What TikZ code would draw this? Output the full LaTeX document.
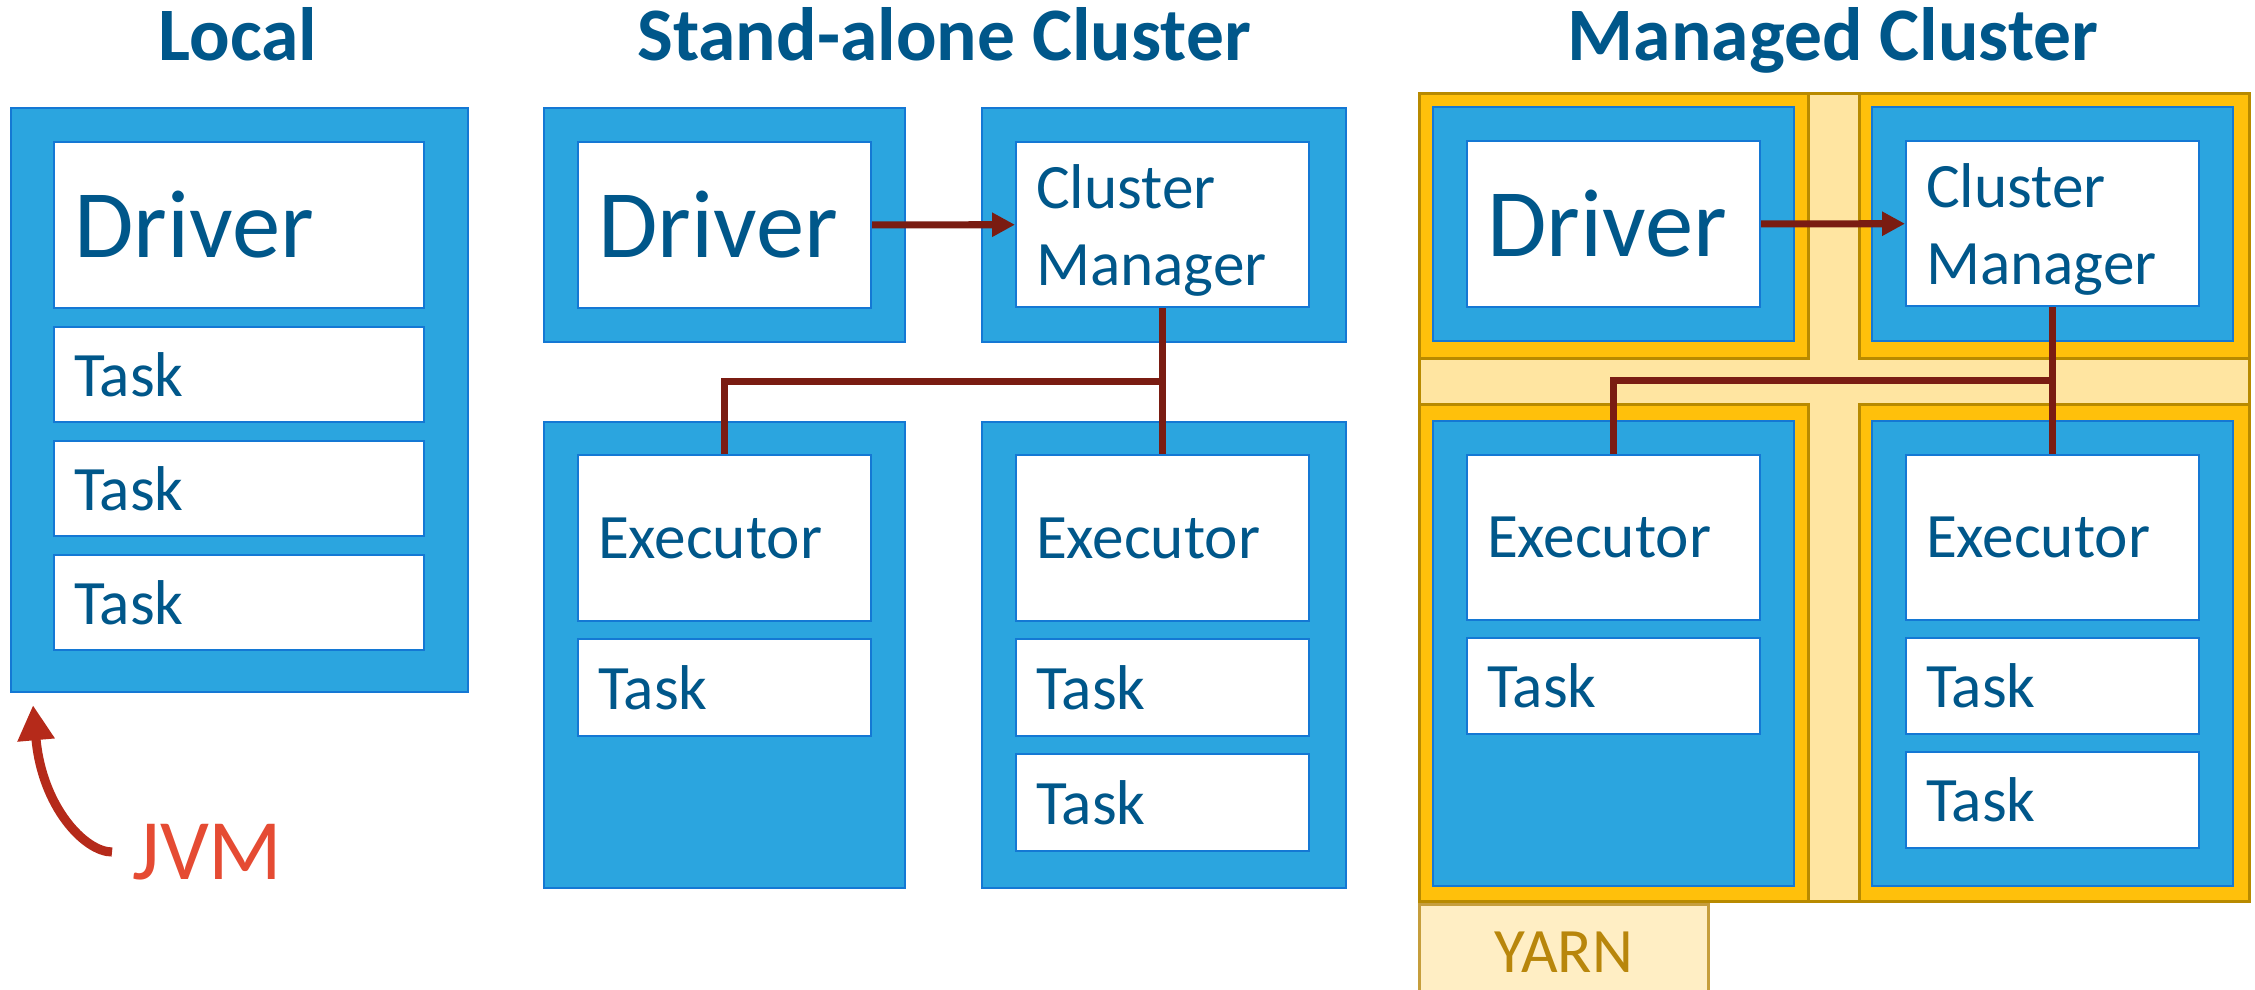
\documentclass[tikz,border=0pt]{standalone}
\usepackage{fontspec}
\setmainfont{Carlito}
\usetikzlibrary{positioning,arrows.meta,calc}
\definecolor{jvmblue}{RGB}{43,165,223}
\definecolor{edgeblue}{RGB}{20,120,212}
\definecolor{inkblue}{RGB}{0,87,138}
\definecolor{linkred}{RGB}{122,28,18}
\definecolor{jvmred}{RGB}{229,75,51}
\definecolor{curvered}{RGB}{181,42,26}
\definecolor{amber}{RGB}{255,192,11}
\definecolor{amberedge}{RGB}{184,138,0}
\definecolor{paleamber}{RGB}{255,229,161}
\definecolor{yarnfill}{RGB}{255,238,196}
\definecolor{yarnink}{RGB}{184,134,11}

\begin{document}
\begin{tikzpicture}[
  x=0.1mm, y=-0.1mm,
  font=\fontsize{18}{22}\selectfont,
  >={Triangle[length=6.5pt,width=6.5pt]},
  title/.style={font=\bfseries\fontsize{21.5}{26}\selectfont,text=inkblue,anchor=base,inner sep=0pt},
  jvmbox/.style={draw=edgeblue,fill=jvmblue,line width=0.6pt,anchor=north west,inner sep=0pt},
  slot/.style={draw=edgeblue,fill=white,line width=0.6pt,text=inkblue,align=left,inner xsep=2mm,inner ysep=0pt,text width=25.3mm},
  wideslot/.style={slot,text width=33mm},
  big/.style={font=\fontsize{27.5}{33}\selectfont},
  cont/.style={draw=amberedge,fill=amber,line width=0.8pt,anchor=north west,inner sep=0pt},
  link/.style={linkred,line width=2pt},
]
\useasboundingbox (0,0) rectangle (2255,990);
% titles
\node[title] (tlocal) at (238,61) {Local};
\node[title] (tstand) at (944,61) {Stand-alone Cluster};
\node[title] (tmanaged) at (1833,61) {Managed Cluster};
% local: one jvm holds driver and tasks
\node[jvmbox,minimum width=45.7mm,minimum height=58.4mm] (lj) at (10,107) {};
\node[wideslot,big,minimum height=16.6mm,below right=3.4mm and 4.3mm of lj.north west] (ldriver) {Driver};
\node[wideslot,minimum height=9.5mm,below=1.7mm of ldriver] (ltask1) {Task};
\node[wideslot,minimum height=9.5mm,below=1.7mm of ltask1] (ltask2) {Task};
\node[wideslot,minimum height=9.5mm,below=1.7mm of ltask2] (ltask3) {Task};
\node[font=\fontsize{24.5}{29}\selectfont,text=jvmred,anchor=west,inner xsep=2mm,inner ysep=0pt] (jvm) at (112,852) {JVM};
\draw[curvered,line width=2.6pt,-{Triangle[length=10pt,width=10pt]}] (jvm.west) .. controls +(-27,0) and +(9,102) .. ($(lj.south west)+(23,12)$);
% stand-alone cluster
\node[jvmbox,minimum width=36.1mm,minimum height=23.4mm] (sdj) at (543,107) {};
\node[jvmbox,minimum width=36.4mm,minimum height=23.4mm] (scj) at (981,107) {};
\node[jvmbox,minimum width=36.1mm,minimum height=46.6mm] (sej1) at (543,421) {};
\node[jvmbox,minimum width=36.4mm,minimum height=46.6mm] (sej2) at (981,421) {};
\node[slot,big,minimum height=16.6mm,below right=3.4mm and 3.4mm of sdj.north west] (sdriver) {Driver};
\node[slot,minimum height=16.5mm,below right=3.4mm and 3.4mm of scj.north west] (scm) {\rule{0pt}{16pt}Cluster\\Manager};
\node[slot,minimum height=16.6mm,below right=3.3mm and 3.4mm of sej1.north west] (sexec1) {Executor};
\node[slot,minimum height=9.7mm,below=1.6mm of sexec1] (stask1) {Task};
\node[slot,minimum height=16.6mm,below right=3.3mm and 3.4mm of sej2.north west] (sexec2) {Executor};
\node[slot,minimum height=9.7mm,below=1.6mm of sexec2] (stask2) {Task};
\node[slot,minimum height=9.7mm,below=1.6mm of stask2] (stask3) {Task};
\coordinate (sbus) at ($(scm.south)!0.5!(sexec2.north)$);
\draw[link,->] (sdriver) -- (scm);
\draw[link] (scm.south) -- (sexec2.north);
\draw[link] (sexec1.north) |- (sbus);
% managed cluster: yarn containers round each jvm
\node[draw=amberedge,fill=paleamber,line width=0.8pt,anchor=north west,inner sep=0pt,minimum width=83mm,minimum height=80.8mm] (yarnbg) at (1418,92) {};
\node[cont,minimum width=38.9mm,minimum height=26.5mm] (yc1) at (1418,92) {};
\node[cont,minimum width=39mm,minimum height=26.5mm] (yc2) at (1858,92) {};
\node[cont,minimum width=38.9mm,minimum height=49.7mm] (yc3) at (1418,403) {};
\node[cont,minimum width=39mm,minimum height=49.7mm] (yc4) at (1858,403) {};
\node[jvmbox,minimum width=36.1mm,minimum height=23.4mm,below right=1.4mm and 1.4mm of yc1.north west] (mdj) {};
\node[jvmbox,minimum width=36.1mm,minimum height=23.4mm,below right=1.4mm and 1.3mm of yc2.north west] (mcj) {};
\node[jvmbox,minimum width=36.1mm,minimum height=46.5mm,below right=1.7mm and 1.4mm of yc3.north west] (mej1) {};
\node[jvmbox,minimum width=36.1mm,minimum height=46.5mm,below right=1.7mm and 1.3mm of yc4.north west] (mej2) {};
\node[slot,big,minimum height=16.6mm,below right=3.4mm and 3.4mm of mdj.north west] (mdriver) {Driver};
\node[slot,minimum height=16.5mm,below right=3.4mm and 3.4mm of mcj.north west] (mcm) {\rule{0pt}{16pt}Cluster\\Manager};
\node[slot,minimum height=16.5mm,below right=3.4mm and 3.4mm of mej1.north west] (mexec1) {Executor};
\node[slot,minimum height=9.6mm,below=1.6mm of mexec1] (mtask1) {Task};
\node[slot,minimum height=16.5mm,below right=3.4mm and 3.4mm of mej2.north west] (mexec2) {Executor};
\node[slot,minimum height=9.6mm,below=1.6mm of mexec2] (mtask2) {Task};
\node[slot,minimum height=9.6mm,below=1.6mm of mtask2] (mtask3) {Task};
\coordinate (mbus) at ($(mcm.south)!0.5!(mexec2.north)$);
\draw[link,->] (mdriver) -- (mcm);
\draw[link] (mcm.south) -- (mexec2.north);
\draw[link] (mexec1.north) |- (mbus);
\node[draw=yarnink!80,fill=yarnfill,line width=0.8pt,anchor=north west,inner sep=0pt,minimum width=28.9mm,minimum height=9.6mm,text=yarnink] (yarn) at (yarnbg.south west) {YARN};
\end{tikzpicture}
\end{document}
